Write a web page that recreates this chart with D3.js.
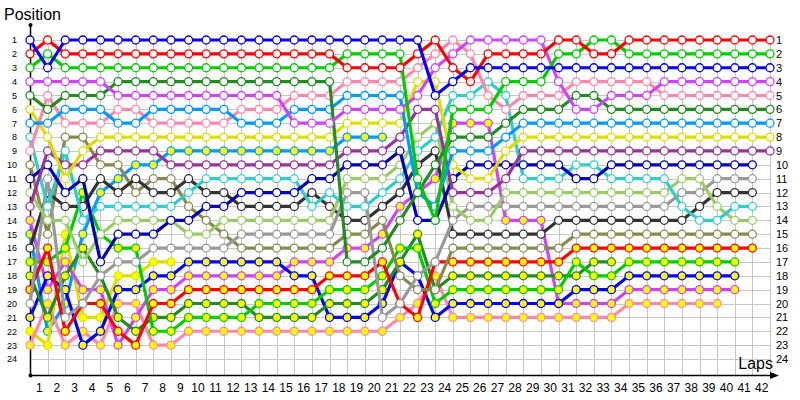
<!DOCTYPE html>
<html>
<head>
<meta charset="utf-8">
<script src="https://cdnjs.cloudflare.com/ajax/libs/d3/7.8.5/d3.min.js"></script>
<style>
  body { margin: 0; background: #fff; }
  svg { display: block; font-family: "Liberation Sans", Arial, sans-serif; }
</style>
</head>
<body>
<svg id="chart" width="800" height="400"></svg>
<script>
// tick labels
const lapTicks = [1,2,3,4,5,6,7,8,9,10,11,12,13,14,15,16,17,18,19,20,21,
                  22,23,24,25,26,27,28,29,30,31,32,33,34,35,36,37,38,39,40,41,42];
const positionTicks = [1,2,3,4,5,6,7,8,9,10,11,12,13,14,15,16,17,18,19,20,21,22,23,24];

// position of each car at lap 0 (grid) .. lap 42, null = not running
const blueW = [1,3,1,1,1,1,1,1,1,1, 1,1,1,1,1,1,1,1,1,1, 1,1,1,5,4,3,3,3,3,3, 3,3,3,3,3,3,3,3,3,3, 3,3,3];
const redW = [2,1,2,2,2,2,2,2,2,2, 2,2,2,2,2,2,2,2,3,3, 3,3,2,1,3,4,2,2,2,2, 1,1,2,2,1,1,1,1,1,1, 1,1,1];
const greenW = [3,2,3,3,3,3,3,3,3,3, 3,3,3,3,3,3,3,3,2,2, 2,2,11,14,6,6,6,4,4,4, 2,2,1,1,2,2,2,2,2,2, 2,2,2];
const magentaW = [4,4,4,4,4,5,5,5,5,5, 5,5,5,5,5,7,7,7,6,6, 6,6,5,3,2,1,1,1,1,1, 4,6,6,5,5,5,4,4,4,4, 4,4,4];
const dkgreenW = [5,6,5,5,5,4,4,4,4,4, 4,4,4,4,4,4,4,4,17,17, 16,14,12,10,8,8,8,7,6,6, 6,5,5,6,6,6,6,6,6,6, 6,6,6];
const ltblueW = [7,7,6,6,6,7,7,6,6,6, 6,6,7,7,7,6,6,6,5,5, 5,5,12,13,9,9,9,8,7,7, 7,7,7,7,7,7,7,7,7,7, 7,7,7];
const pinkW = [9,5,7,7,7,6,6,7,7,7, 7,7,6,6,6,5,5,5,4,4, 4,4,3,2,1,2,5,6,5,5, 5,4,4,4,4,4,5,5,5,5, 5,5,5];
const yellowW = [6,8,11,9,8,8,8,8,8,8, 8,8,8,8,8,8,8,8,7,7, 7,7,4,4,10,11,11,9,8,8, 8,8,8,8,8,8,8,8,8,8, 8,8,8];
const purpleW = [13,9,10,10,9,9,9,9,10,10, 10,10,10,10,10,10,10,10,9,9, 9,8,6,6,12,12,12,11,9,9, 9,9,9,9,9,9,9,9,9,9, 9,9,9];
const dkblueW = [11,10,12,11,17,15,15,15,14,14, 13,13,12,12,12,12,11,11,10,10, 10,9,14,14,11,10,10,10,10,10, 10,11,11,10,10,10,10,10,10,10, 10,10,null];
const cyanW = [8,13,9,14,13,13,13,13,13,12, 11,11,11,11,11,11,13,12,13,13, 12,11,9,8,5,5,4,5,11,11, 11,10,10,11,11,11,11,13,14,14, 13,13,null];
const ltgreenW = [12,14,14,17,15,14,14,14,14,15, 15,14,14,14,14,14,14,14,11,11, 11,10,8,7,13,14,14,12,12,12, 12,12,12,12,12,12,12,11,11,13, 14,14,null];
const grayW = [20,11,21,20,18,17,17,16,16,16, 16,16,15,15,15,15,15,15,12,12, 21,20,18,17,14,13,13,13,13,13, 13,13,13,13,13,13,13,12,12,11, 11,11,null];
const dkgrayW = [16,12,13,13,11,12,11,12,12,11, 12,12,13,13,13,13,12,13,14,14, 13,12,10,9,15,15,15,15,15,15, 14,14,14,14,14,14,14,14,13,12, 12,12,null];
const oliveW = [10,15,8,8,10,10,12,11,11,13, 14,15,16,16,16,16,16,16,15,15, 14,18,19,19,16,16,16,16,16,16, 16,15,15,15,15,15,15,15,15,15, 15,15,null];
const redY = [19,16,22,20,20,22,23,20,20,19, 19,19,19,19,19,19,19,18,18,18, 17,20,21,17,17,17,17,17,17,17, 17,16,16,16,16,16,16,16,16,16, 16,16,null];
const greenY = [17,17,16,12,15,16,16,22,22,21, 21,21,21,20,20,20,20,19,19,19, 18,16,16,20,19,19,19,19,19,19, 19,17,18,18,17,17,17,17,17,17, 17,null,null];
const dkgreenY = [18,21,18,16,18,21,22,21,21,20, 20,20,20,21,21,21,21,20,20,20, 19,17,15,19,18,18,18,18,18,18, 18,18,17,17,null,null,null,null,null,null, null,null,null];
const blueY = [21,18,19,23,22,19,19,18,18,17, 17,17,17,17,17,18,18,21,21,21, 20,17,18,21,20,20,20,20,20,20, 20,19,19,19,18,18,18,18,18,18, 18,null,null];
const magentaY = [14,19,17,19,19,23,21,19,19,18, 18,18,18,18,18,17,17,17,16,16, 15,13,12,11,7,7,7,14,14,14, 20,20,20,20,19,19,19,19,19,19, 19,null,null];
const pinkY = [23,20,23,22,23,20,20,23,23,22, 22,22,22,22,22,22,22,22,22,22, 22,21,20,18,21,21,21,21,21,21, 21,21,21,21,20,20,20,20,20,20, null,null,null];
const ltblueY = [15,22,20,15,12,11,10,10,9,9, 9,9,9,9,9,9,9,9,8,8, 8,null,null,null,null,null,null,null,null,null,
                 null,null,null,null,null,null,null,null,null,null, null,null,null];
const yellowY = [22,23,15,21,21,18,18,17,17,null, null,null,null,null,null,null,null,null,null,null,
                 null,null,null,null,null,null,null,null,null,null, null,null,null,null,null,null,null,null,null,null, null,null,null];

// drawing order and look of each car
const cars = [
  { pos: ltblueY, color: '#0099ff', fill: '#ffff00' },
  { pos: yellowY, color: '#dddd00', fill: '#ffff00' },
  { pos: pinkY, color: '#ff88aa', fill: '#ffff00' },
  { pos: magentaY, color: '#cc44ff', fill: '#ffff00' },
  { pos: blueY, color: '#0000ff', fill: '#ffff00' },
  { pos: dkgreenY, color: '#228b22', fill: '#ffff00' },
  { pos: greenY, color: '#00cc00', fill: '#ffff00' },
  { pos: redY, color: '#ff0000', fill: '#ffff00' },
  { pos: oliveW, color: '#888850', fill: '#ffffff' },
  { pos: dkgrayW, color: '#333333', fill: '#ffffff' },
  { pos: grayW, color: '#999999', fill: '#ffffff' },
  { pos: ltgreenW, color: '#99cc66', fill: '#ffffff' },
  { pos: cyanW, color: '#33cccc', fill: '#ffffff' },
  { pos: dkblueW, color: '#0000b4', fill: '#ffffff' },
  { pos: purpleW, color: '#993399', fill: '#ffffff' },
  { pos: yellowW, color: '#dddd00', fill: '#ffffff' },
  { pos: pinkW, color: '#ff88aa', fill: '#ffffff' },
  { pos: ltblueW, color: '#0099ff', fill: '#ffffff' },
  { pos: dkgreenW, color: '#228b22', fill: '#ffffff' },
  { pos: magentaW, color: '#cc44ff', fill: '#ffffff' },
  { pos: greenW, color: '#00cc00', fill: '#ffffff' },
  { pos: redW, color: '#ff0000', fill: '#ffffff' },
  { pos: blueW, color: '#0000ff', fill: '#ffffff' }
];

const svg = d3.select('#chart');
const x = d3.scaleLinear().domain([0, 42]).range([30, 770]);
const y = d3.scaleLinear().domain([1, 24]).range([40, 359]);
const axisY = 375;

// grid
const grid = svg.append('g').attr('stroke', '#c8c8c8').attr('stroke-width', 1);
const gridLaps = [0].concat(lapTicks);
grid.selectAll('line.v').data(gridLaps).enter().append('line')
    .attr('x1', d => Math.round(x(d)) + 0.5).attr('x2', d => Math.round(x(d)) + 0.5)
    .attr('y1', y(1)).attr('y2', axisY);
grid.selectAll('line.h').data(positionTicks).enter().append('line')
    .attr('y1', d => Math.round(y(d)) + 0.5).attr('y2', d => Math.round(y(d)) + 0.5)
    .attr('x1', x(0)).attr('x2', x(42));

// axes lines
svg.append('line').attr('x1', 30.5).attr('x2', 30.5).attr('y1', 25).attr('y2', axisY)
   .attr('stroke', '#000').attr('stroke-width', 1.5);
svg.append('circle').attr('cx', 30.5).attr('cy', 25).attr('r', 2).attr('fill', '#000');
svg.append('line').attr('x1', 30).attr('x2', 772).attr('y1', axisY + 0.5).attr('y2', axisY + 0.5)
   .attr('stroke', '#000').attr('stroke-width', 1.5);
svg.append('path').attr('d', `M770,${axisY - 3}L779,${axisY + 0.5}L770,${axisY + 4}Z`).attr('fill', '#000');
svg.append('circle').attr('cx', 30.5).attr('cy', axisY + 0.5).attr('r', 2).attr('fill', '#000');

// lap labels sit between grid lines
const bottom = d3.axisBottom(x).tickValues(lapTicks.map(d => d - 0.5))
    .tickFormat(d => d + 0.5).tickSize(0).tickPadding(8);
svg.append('g').attr('transform', `translate(0,${axisY})`).call(bottom)
   .call(g => g.select('.domain').remove())
   .selectAll('text').attr('font-size', 12).attr('font-family', '"Liberation Sans", Arial, sans-serif').attr('fill', '#000');

const left = d3.axisLeft(y).tickValues(positionTicks).tickSize(0).tickPadding(13);
svg.append('g').attr('transform', 'translate(30,0)').call(left)
   .call(g => g.select('.domain').remove())
   .selectAll('text').attr('font-size', 9).attr('font-family', '"Liberation Sans", Arial, sans-serif').attr('fill', '#000');

const right = d3.axisRight(y).tickValues(positionTicks).tickSize(0).tickPadding(6);
svg.append('g').attr('transform', 'translate(770,0)').call(right)
   .call(g => g.select('.domain').remove())
   .selectAll('text').attr('font-size', 11).attr('font-family', '"Liberation Sans", Arial, sans-serif').attr('fill', '#000');

svg.append('text').attr('x', 4).attr('y', 20).attr('font-size', 16).text('Position');
svg.append('text').attr('x', 773).attr('y', 369).attr('font-size', 16).attr('text-anchor', 'end').text('Laps');

// cars
const line = d3.line().defined(d => d[1] != null).x(d => x(d[0])).y(d => y(d[1]));
cars.forEach(c => {
  const pts = c.pos.map((p, i) => [i, p]);
  const g = svg.append('g');
  g.append('path').attr('d', line(pts)).attr('fill', 'none')
   .attr('stroke', c.color).attr('stroke-width', 3.2).attr('stroke-linejoin', 'round');
  g.selectAll('circle').data(pts.filter(d => d[1] != null)).enter().append('circle')
   .attr('cx', d => x(d[0])).attr('cy', d => y(d[1])).attr('r', 4)
   .attr('fill', c.fill).attr('stroke', c.color).attr('stroke-width', 1.3);
});
</script>
</body>
</html>
